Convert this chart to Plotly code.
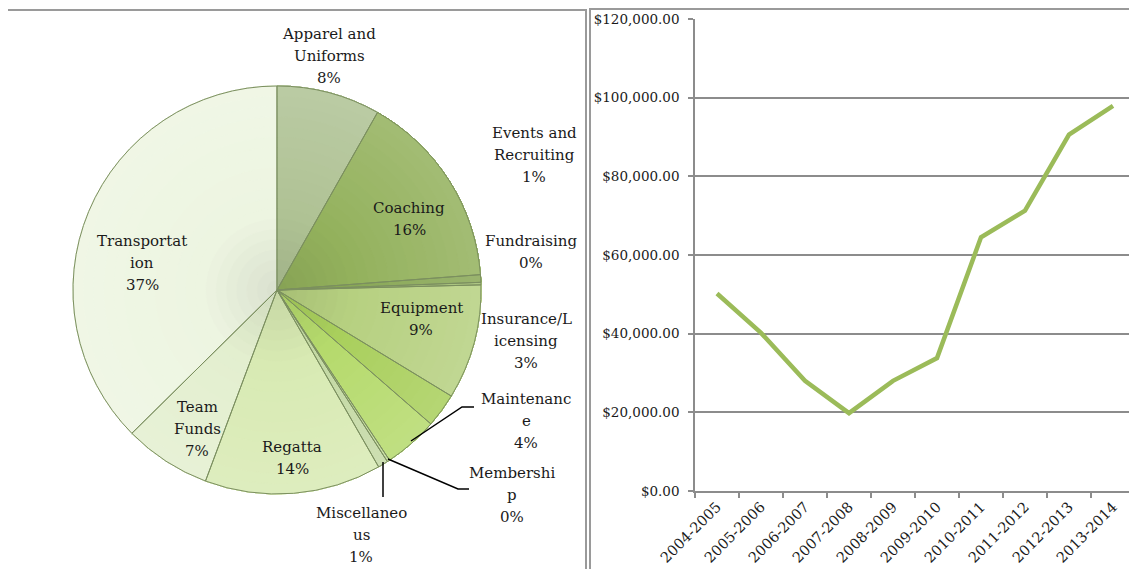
import plotly.graph_objects as go

# ---- data ----
categories = ["Apparel and Uniforms", "Coaching", "Events and Recruiting", "Fundraising",
              "Equipment", "Insurance/Licensing", "Maintenance", "Membership",
              "Miscellaneous", "Regatta", "Team Funds", "Transportation"]
shares = [8.2, 15.6, 0.6, 0.2, 9.1, 2.7, 4.3, 0.2, 0.8, 14.0, 6.9, 37.4]
# how Excel wrapped the label text
wrapped = ["Apparel and<br>Uniforms", "Coaching", "Events and<br>Recruiting", "Fundraising",
           "Equipment", "Insurance/L<br>icensing", "Maintenanc<br>e", "Membershi<br>p",
           "Miscellaneo<br>us", "Regatta", "Team<br>Funds", "Transportat<br>ion"]

seasons = ["2004-2005", "2005-2006", "2006-2007", "2007-2008", "2008-2009",
           "2009-2010", "2010-2011", "2011-2012", "2012-2013", "2013-2014"]
budget = [50200, 40200, 28000, 19800, 28000, 33800, 64500, 71300, 90600, 97900]

# ---- styling ----
# the page body has an 8px margin, so the figure starts at page pixel (8, 8)
OFF = 8
W, H = 1137 - OFF, 569 - OFF
slice_colors = ["#afc294", "#93b15c", "#89a856", "#a0bd70", "#b6d080", "#a9cf5c",
                "#b5da6c", "#c0d896", "#c4d9a4", "#d8eab3", "#e3efcf", "#edf5e1"]
# label centres in page pixels (x, y)
label_pos = [(329, 56), (409, 219), (534, 155), (531, 252), (421, 319), (526, 341),
             (526, 421), (512, 495), (361, 535), (292, 458), (197, 429), (142, 263)]
line_gap = 22

serif = "DejaVu Serif"


def px(x):
    return (x - OFF) / W


def py(y):
    return 1 - (y - OFF) / H


def hex_rgb(h):
    h = h.lstrip("#")
    return [int(h[i:i + 2], 16) for i in (0, 2, 4)]


def shade(h, f):
    # f < 0 darkens towards black, f > 0 lightens towards white
    c = hex_rgb(h)
    if f < 0:
        c = [v * (1 + f) for v in c]
    else:
        c = [v + (255 - v) * f for v in c]
    return "rgb({:.0f},{:.0f},{:.0f})".format(*c)


cx, cy, r = 277, 290, 204
pie_domain = dict(x=[px(cx - r), px(cx + r)], y=[py(cy + r), py(cy - r)])

fig = go.Figure()

# stacked rings give the slices a soft radial shading (darker at the centre)
steps = 20
for k in range(steps):
    hole = k / steps
    f = -0.08 + 0.22 * (k / (steps - 1))
    fig.add_trace(go.Pie(
        labels=categories, values=shares, sort=False, direction="clockwise", rotation=0,
        hole=hole, textinfo="none", hoverinfo="skip",
        marker=dict(colors=[shade(c, f) for c in slice_colors],
                    line=dict(width=0.6, color=[shade(c, f) for c in slice_colors])),
        domain=pie_domain, showlegend=False,
    ))

# slice outlines on top
fig.add_trace(go.Pie(
    labels=categories, values=shares, sort=False, direction="clockwise", rotation=0,
    textinfo="none", hoverinfo="label+percent",
    marker=dict(colors=["rgba(0,0,0,0)"] * len(shares), line=dict(color="#7b8f5f", width=1)),
    domain=pie_domain, showlegend=False,
))

fig.add_trace(go.Scatter(
    x=seasons, y=budget, mode="lines",
    line=dict(color="#9bbb59", width=4.5),
    showlegend=False, hoverinfo="x+y",
))

total = sum(shares)
annotations = []
for name, v, (lx, ly) in zip(wrapped, shares, label_pos):
    lines = name.split("<br>") + [f"{round(v / total * 100)}%"]
    n = len(lines)
    for i, t in enumerate(lines):
        annotations.append(dict(
            x=px(lx), y=py(ly + (i - (n - 1) / 2) * line_gap), xref="paper", yref="paper",
            text=t, showarrow=False, xanchor="center", yanchor="middle",
            font=dict(family=serif, size=15, color="#1a1a1a"),
        ))

shapes = [
    # panel frames
    dict(type="rect", xref="paper", yref="paper", x0=px(6), x1=px(586), y0=-0.1, y1=py(10),
         line=dict(color="#9a9a9a", width=2)),
    dict(type="rect", xref="paper", yref="paper", x0=px(590), x1=px(1135.5), y0=-0.1, y1=py(9),
         line=dict(color="#9a9a9a", width=2)),
]
# leader lines for the small slices
leaders = [
    [(411, 441), (462, 407), (474, 407)],
    [(388, 459), (458, 489), (469, 489)],
    [(383, 462), (383, 497)],
]
for pts in leaders:
    path = "M " + " L ".join(f"{px(a)},{py(b)}" for a, b in pts)
    shapes.append(dict(type="path", xref="paper", yref="paper", path=path,
                       line=dict(color="black", width=1.5)))

fig.update_layout(
    width=W, height=H,
    margin=dict(l=0, r=0, t=0, b=0),
    paper_bgcolor="white", plot_bgcolor="white",
    font=dict(family=serif, color="#1a1a1a"),
    annotations=annotations,
    shapes=shapes,
    xaxis=dict(
        domain=[px(695), min(1.0, px(1135))], type="category", range=[-0.5, 9.5],
        automargin=False,
        showline=True, linecolor="#8c8c8c", linewidth=1.5,
        ticks="outside", tickson="boundaries", ticklen=5, tickcolor="#8c8c8c", tickwidth=1.5,
        tickangle=-45, showgrid=False, tickfont=dict(family=serif, size=14.5),
    ),
    yaxis=dict(
        domain=[py(491), py(19)], range=[0, 120000], dtick=20000, tickformat="$,.2f",
        automargin=False, ticklabelstandoff=6,
        showgrid=True, gridcolor="#8c8c8c", gridwidth=1.5, zeroline=False,
        showline=True, linecolor="#8c8c8c", linewidth=1.5,
        ticks="outside", ticklen=5, tickcolor="#8c8c8c", tickwidth=1.5,
        tickfont=dict(family=serif, size=13.5),
    ),
)

fig.write_html("out.html")
